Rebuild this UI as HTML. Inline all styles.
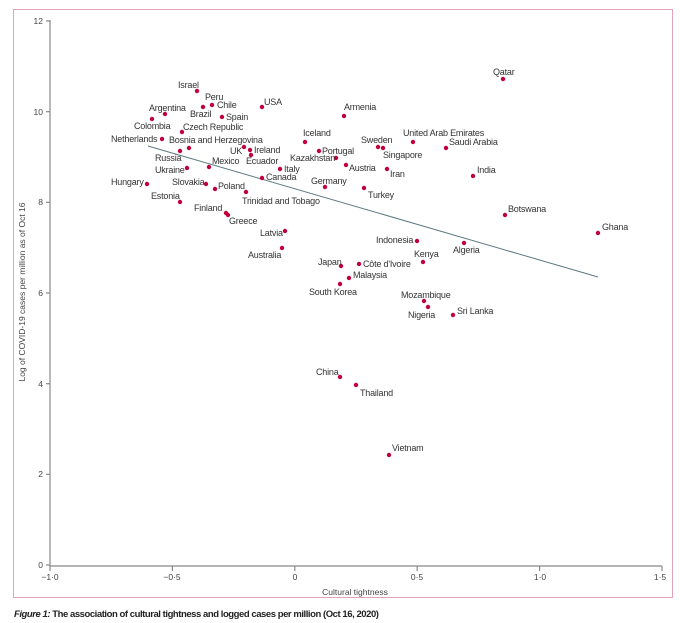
<!DOCTYPE html>
<html><head><meta charset="utf-8"><style>
body{margin:0;background:#fff;}
svg{display:block;font-family:"Liberation Sans",sans-serif;}
.l{font-size:9px;fill:#333;letter-spacing:-0.2px}
.t{font-size:8.5px;fill:#444}
</style></head><body>
<svg width="680" height="623" viewBox="0 0 680 623">
<rect x="13.5" y="9.5" width="659" height="588" fill="none" stroke="#e2a3b4" stroke-width="1"/>
<g stroke="#888" stroke-width="1.2" fill="none">
<line x1="50" y1="20" x2="50" y2="566"/>
<line x1="50" y1="566" x2="662" y2="566"/>
<line x1="46" y1="21" x2="50" y2="21"/><line x1="46" y1="111.7" x2="50" y2="111.7"/><line x1="46" y1="202.3" x2="50" y2="202.3"/><line x1="46" y1="293" x2="50" y2="293"/><line x1="46" y1="383.7" x2="50" y2="383.7"/><line x1="46" y1="474.3" x2="50" y2="474.3"/><line x1="46" y1="565" x2="50" y2="565"/>
<line x1="50" y1="566" x2="50" y2="571"/><line x1="172.4" y1="566" x2="172.4" y2="571"/><line x1="294.8" y1="566" x2="294.8" y2="571"/><line x1="417.2" y1="566" x2="417.2" y2="571"/><line x1="539.6" y1="566" x2="539.6" y2="571"/><line x1="662" y1="566" x2="662" y2="571"/>
</g>
<g class="t" text-anchor="end">
<text x="43" y="24">12</text><text x="43" y="115">10</text><text x="43" y="205">8</text><text x="43" y="296">6</text><text x="43" y="387">4</text><text x="43" y="477">2</text><text x="43" y="568">0</text>
</g>
<g class="t" text-anchor="middle">
<text x="50" y="580">−1·0</text><text x="172" y="580">−0·5</text><text x="295" y="580">0</text><text x="417" y="580">0·5</text><text x="540" y="580">1·0</text><text x="660" y="580">1·5</text>
<text x="355" y="595">Cultural tightness</text>
</g>
<text class="t" transform="translate(25,292) rotate(-90)" text-anchor="middle">Log of COVID-19 cases per million as of Oct 16</text>
<line x1="148" y1="146" x2="598" y2="277" stroke="#5a7a80" stroke-width="1"/>
<g fill="#c0003c">
<circle cx="503" cy="79" r="2.2"/><circle cx="197" cy="91" r="2.2"/><circle cx="203" cy="107" r="2.2"/><circle cx="212" cy="105" r="2.2"/><circle cx="165" cy="114" r="2.2"/><circle cx="262" cy="107" r="2.2"/><circle cx="222" cy="117" r="2.2"/><circle cx="152" cy="119" r="2.2"/><circle cx="182" cy="132" r="2.2"/><circle cx="162" cy="139" r="2.2"/><circle cx="189" cy="148" r="2.2"/><circle cx="180" cy="151" r="2.2"/><circle cx="244" cy="147" r="2.2"/><circle cx="250" cy="150" r="2.2"/><circle cx="251" cy="155" r="2.2"/><circle cx="209" cy="167" r="2.2"/><circle cx="187" cy="168" r="2.2"/><circle cx="336" cy="158" r="2.2"/><circle cx="280" cy="169" r="2.2"/><circle cx="262" cy="178" r="2.2"/><circle cx="147" cy="184" r="2.2"/><circle cx="206" cy="184" r="2.2"/><circle cx="215" cy="189" r="2.2"/><circle cx="246" cy="192" r="2.2"/><circle cx="180" cy="202" r="2.2"/><circle cx="226" cy="213" r="2.2"/><circle cx="228" cy="215" r="2.2"/><circle cx="344" cy="116" r="2.2"/><circle cx="305" cy="142" r="2.2"/><circle cx="319" cy="151" r="2.2"/><circle cx="378" cy="147" r="2.2"/><circle cx="383" cy="148" r="2.2"/><circle cx="346" cy="165" r="2.2"/><circle cx="387" cy="169" r="2.2"/><circle cx="325" cy="187" r="2.2"/><circle cx="364" cy="188" r="2.2"/><circle cx="413" cy="142" r="2.2"/><circle cx="446" cy="148" r="2.2"/><circle cx="473" cy="176" r="2.2"/><circle cx="505" cy="215" r="2.2"/><circle cx="598" cy="233" r="2.2"/><circle cx="285" cy="231" r="2.2"/><circle cx="282" cy="248" r="2.2"/><circle cx="417" cy="241" r="2.2"/><circle cx="464" cy="243" r="2.2"/><circle cx="423" cy="262" r="2.2"/><circle cx="341" cy="266" r="2.2"/><circle cx="359" cy="264" r="2.2"/><circle cx="349" cy="278" r="2.2"/><circle cx="340" cy="284" r="2.2"/><circle cx="424" cy="301" r="2.2"/><circle cx="428" cy="307" r="2.2"/><circle cx="453" cy="315" r="2.2"/><circle cx="340" cy="377" r="2.2"/><circle cx="356" cy="385" r="2.2"/><circle cx="389" cy="455" r="2.2"/>
</g>
<g class="l">
<text x="493" y="75">Qatar</text><text x="178" y="88">Israel</text><text x="205" y="100">Peru</text><text x="217" y="108">Chile</text><text x="190" y="117">Brazil</text><text x="149" y="111">Argentina</text><text x="264" y="105">USA</text><text x="226" y="120">Spain</text><text x="134" y="129">Colombia</text><text x="183" y="130">Czech Republic</text><text x="111" y="142">Netherlands</text><text x="169" y="143">Bosnia and Herzegovina</text><text x="155" y="161">Russia</text><text x="230" y="154">UK</text><text x="254" y="153">Ireland</text><text x="246" y="164">Ecuador</text><text x="212" y="164">Mexico</text><text x="155" y="173">Ukraine</text><text x="290" y="161">Kazakhstan</text><text x="284" y="172">Italy</text><text x="266" y="180">Canada</text><text x="111" y="185">Hungary</text><text x="172" y="185">Slovakia</text><text x="218" y="189">Poland</text><text x="242" y="204">Trinidad and Tobago</text><text x="151" y="199">Estonia</text><text x="194" y="211">Finland</text><text x="229" y="224">Greece</text><text x="344" y="110">Armenia</text><text x="303" y="136">Iceland</text><text x="322" y="154">Portugal</text><text x="361" y="143">Sweden</text><text x="383" y="158">Singapore</text><text x="349" y="171">Austria</text><text x="390" y="177">Iran</text><text x="311" y="184">Germany</text><text x="368" y="198">Turkey</text><text x="403" y="136">United Arab Emirates</text><text x="449" y="145">Saudi Arabia</text><text x="477" y="173">India</text><text x="508" y="212">Botswana</text><text x="602" y="230">Ghana</text><text x="260" y="236">Latvia</text><text x="248" y="258">Australia</text><text x="376" y="243">Indonesia</text><text x="453" y="253">Algeria</text><text x="414" y="257">Kenya</text><text x="318" y="265">Japan</text><text x="363" y="267">Côte d'Ivoire</text><text x="353" y="278">Malaysia</text><text x="309" y="295">South Korea</text><text x="401" y="298">Mozambique</text><text x="408" y="318">Nigeria</text><text x="457" y="314">Sri Lanka</text><text x="316" y="375">China</text><text x="360" y="396">Thailand</text><text x="392" y="451">Vietnam</text>
</g>
<text x="14" y="617" style="font-size:9.5px;fill:#222;font-weight:bold;letter-spacing:-0.45px"><tspan font-style="italic">Figure 1:</tspan> The association of cultural tightness and logged cases per million (Oct 16, 2020)</text>
</svg>
</body></html>
